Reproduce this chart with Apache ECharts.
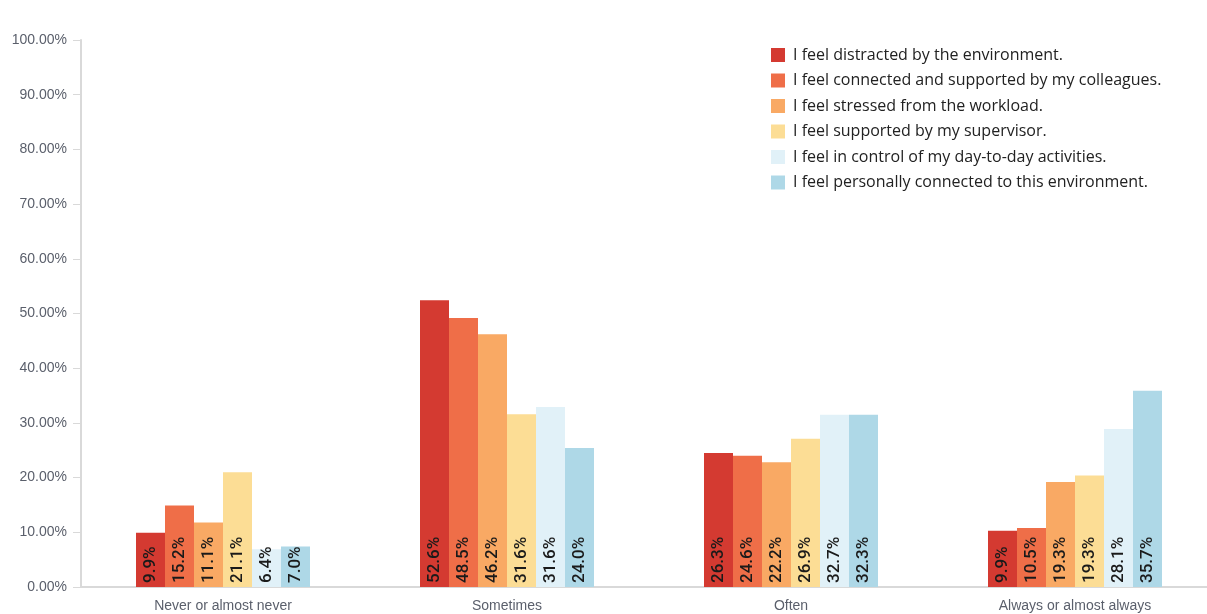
<!DOCTYPE html>
<html>
<head>
<meta charset="utf-8">
<script src="https://cdn.jsdelivr.net/npm/echarts@6/dist/echarts.min.js"></script>
<style>
  html, body { margin: 0; padding: 0; background: #fff; }
  #chart { width: 1207px; height: 614px; }
</style>
</head>
<body>
<div id="chart"></div>
<script>
const categories = ["Never or almost never", "Sometimes", "Often", "Always or almost always"];

const seriesNames = [
  "I feel distracted by the environment.",
  "I feel connected and supported by my colleagues.",
  "I feel stressed from the workload.",
  "I feel supported by my supervisor.",
  "I feel in control of my day-to-day activities.",
  "I feel personally connected to this environment."
];

const colors = ["#d43a31", "#ef6e48", "#f9a964", "#fcdd95", "#e1f1f8", "#aed8e7"];

// bar heights as drawn (percent)
const distracted = [9.9, 52.4, 24.5, 10.3];
const colleagues = [14.9, 49.2, 24.0, 10.8];
const stressed   = [11.8, 46.2, 22.8, 19.2];
const supervisor = [21.0, 31.6, 27.1, 20.4];
const control    = [6.9, 32.9, 31.5, 28.9];
const personal   = [7.4, 25.4, 31.5, 35.9];

// label text printed inside bars
const distractedLabels = ["9.9%", "52.6%", "26.3%", "9.9%"];
const colleaguesLabels = ["15.2%", "48.5%", "24.6%", "10.5%"];
const stressedLabels   = ["11.1%", "46.2%", "22.2%", "19.3%"];
const supervisorLabels = ["21.1%", "31.6%", "26.9%", "19.3%"];
const controlLabels    = ["6.4%", "31.6%", "32.7%", "28.1%"];
const personalLabels   = ["7.0%", "24.0%", "32.3%", "35.7%"];

const values = [distracted, colleagues, stressed, supervisor, control, personal];
const labels = [distractedLabels, colleaguesLabels, stressedLabels, supervisorLabels, controlLabels, personalLabels];

const chart = echarts.init(document.getElementById("chart"));

chart.setOption({
  backgroundColor: "#fff",
  animation: false,
  color: colors,
  grid: { left: 81, top: 40, width: 1136, height: 547, outerBoundsMode: "none", containLabel: false },
  legend: {
    orient: "vertical",
    left: 771,
    top: 47,
    padding: 0,
    itemWidth: 14,
    itemHeight: 14,
    itemGap: 9.5,
    icon: "rect",
    textStyle: {
      fontFamily: "Open Sans",
      fontSize: 16,
      lineHeight: 16,
      color: "#222",
      padding: [0, 0, 0, 3]
    },
    data: seriesNames
  },
  xAxis: {
    type: "category",
    data: categories,
    axisLine: { lineStyle: { color: "#d9d9d9", width: 2 } },
    axisTick: { length: 8, lineStyle: { color: "#d9d9d9" } },
    axisLabel: { fontFamily: "Liberation Sans", fontSize: 14, color: "#5a5f6b", margin: 12 }
  },
  yAxis: {
    type: "value",
    min: 0,
    max: 100,
    interval: 10,
    axisLine: { show: true, lineStyle: { color: "#d9d9d9", width: 2 } },
    axisTick: { show: true, length: 8, lineStyle: { color: "#d9d9d9" } },
    splitLine: { show: false },
    axisLabel: {
      fontFamily: "Liberation Sans",
      fontSize: 14,
      color: "#5a5f6b",
      margin: 14,
      formatter: (v) => v.toFixed(2) + "%"
    }
  },
  series: values.map((data, i) => ({
    name: seriesNames[i],
    type: "bar",
    data: data,
    barWidth: 29,
    barGap: "0%",
    itemStyle: { color: colors[i] },
    label: {
      show: true,
      position: "insideBottom",
      rotate: 90,
      align: "left",
      verticalAlign: "middle",
      distance: 4,
      fontFamily: "Roboto",
      fontSize: 17,
      fontWeight: 500,
      color: "#1a1a1a",
      formatter: (p) => labels[i][p.dataIndex]
    }
  }))
});
</script>
</body>
</html>
